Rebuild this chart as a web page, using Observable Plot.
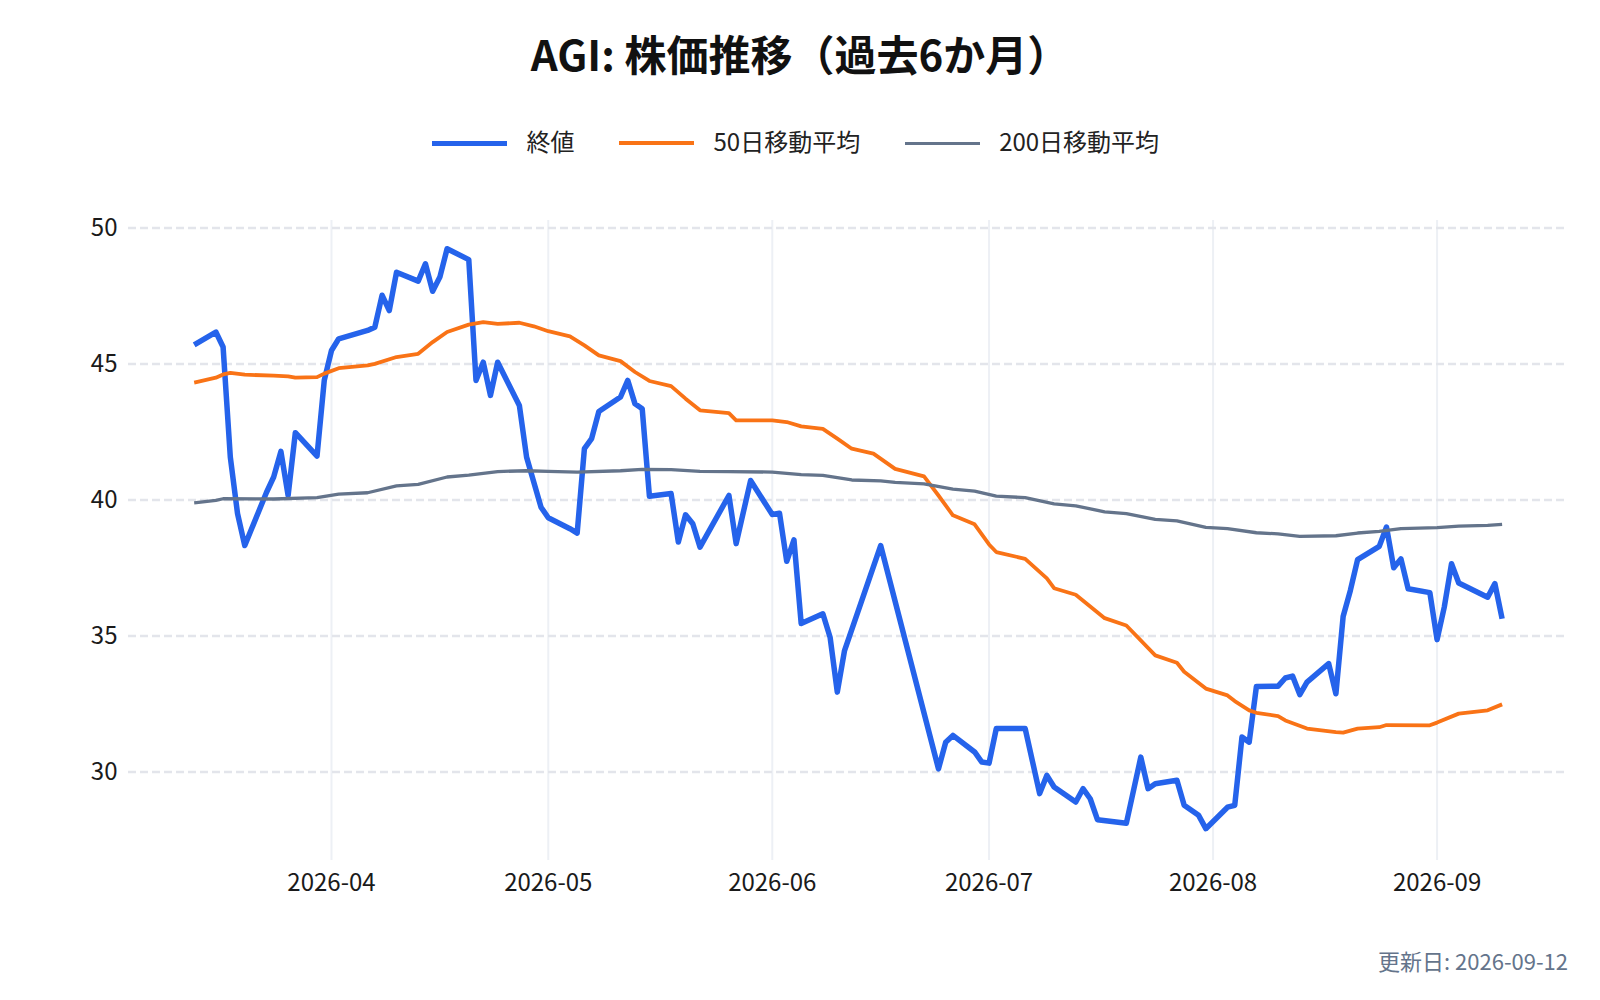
<!DOCTYPE html>
<html lang="ja">
<head>
<meta charset="utf-8">
<script src="https://cdn.jsdelivr.net/npm/d3@7"></script>
<script src="https://cdn.jsdelivr.net/npm/@observablehq/plot@0.6"></script>
<style>
  html, body { margin: 0; padding: 0; background: #ffffff; }
  #wrap { position: relative; width: 1600px; height: 1000px; overflow: hidden; font-family: "Noto Sans CJK JP", "Noto Sans", sans-serif; }
  #title { position: absolute; left: 0; top: 32px; width: 1600px; text-align: center; font-size: 42px; line-height: 42px; font-weight: 700; color: #111111; }
  #legend { position: absolute; left: 432px; top: 129px; height: 24px; display: flex; align-items: center; font-size: 24px; line-height: 24px; color: #222222; }
  .item { display: flex; align-items: center; margin-right: 44.5px; }
  .sw { width: 75px; margin-right: 19.5px; position: relative; top: 2.4px; }
  #chart { position: absolute; left: 0; top: 180px; }
  #caption { position: absolute; right: 32px; top: 949px; font-size: 22px; line-height: 22px; color: #64748b; }
</style>
</head>
<body>
<div id="wrap">
  <div id="title">AGI: 株価推移（過去6か月）</div>
  <div id="legend"></div>
  <div id="chart"></div>
  <div id="caption">更新日: 2026-09-12</div>
</div>
<script>
// ---- data ----
const closeDates = [
  "2026-03-13","2026-03-16","2026-03-17","2026-03-18","2026-03-19","2026-03-20",
  "2026-03-23","2026-03-24","2026-03-25","2026-03-26","2026-03-27","2026-03-30","2026-03-31",
  "2026-04-01","2026-04-02","2026-04-06","2026-04-07","2026-04-08","2026-04-09","2026-04-10",
  "2026-04-13","2026-04-14","2026-04-15","2026-04-16","2026-04-17","2026-04-20","2026-04-21",
  "2026-04-22","2026-04-23","2026-04-24","2026-04-27","2026-04-28","2026-04-29","2026-04-30",
  "2026-05-01","2026-05-04","2026-05-05","2026-05-06","2026-05-07","2026-05-08","2026-05-11",
  "2026-05-12","2026-05-13","2026-05-14","2026-05-15","2026-05-18","2026-05-19","2026-05-20",
  "2026-05-21","2026-05-22","2026-05-26","2026-05-27","2026-05-29","2026-06-01","2026-06-02",
  "2026-06-03","2026-06-04","2026-06-05","2026-06-08","2026-06-09","2026-06-10","2026-06-11",
  "2026-06-16","2026-06-24","2026-06-25","2026-06-26","2026-06-29","2026-06-30","2026-07-01",
  "2026-07-02","2026-07-06","2026-07-08","2026-07-09","2026-07-10","2026-07-13","2026-07-14",
  "2026-07-15","2026-07-16","2026-07-20","2026-07-22","2026-07-23","2026-07-24","2026-07-27",
  "2026-07-28","2026-07-30","2026-07-31","2026-08-03","2026-08-04","2026-08-05","2026-08-06",
  "2026-08-07","2026-08-10","2026-08-11","2026-08-12","2026-08-13","2026-08-14","2026-08-17",
  "2026-08-18","2026-08-19","2026-08-20","2026-08-21","2026-08-24","2026-08-25","2026-08-26",
  "2026-08-27","2026-08-28","2026-08-31","2026-09-01","2026-09-02","2026-09-03","2026-09-04",
  "2026-09-08","2026-09-09","2026-09-10"
];
const closeValues = [
  45.71,46.18,45.63,41.58,39.50,38.33,
  40.28,40.85,41.79,40.17,42.48,41.62,44.40,
  45.50,45.93,46.24,46.36,47.53,46.97,48.38,
  48.05,48.69,47.68,48.20,49.24,48.84,44.40,
  45.07,43.85,45.07,43.48,41.58,40.66,39.74,
  39.35,38.95,38.79,41.89,42.26,43.26,43.79,
  44.40,43.54,43.36,40.14,40.24,38.46,39.46,
  39.13,38.27,40.17,38.40,40.72,39.47,39.52,
  37.75,38.54,35.46,35.82,34.96,32.94,34.47,
  38.33,30.12,31.10,31.35,30.74,30.37,30.33,
  31.60,31.60,29.21,29.88,29.45,28.90,29.39,
  29.02,28.25,28.12,30.55,29.39,29.57,29.70,
  28.78,28.41,27.92,28.71,28.78,31.29,31.10,
  33.15,33.16,33.46,33.53,32.85,33.31,33.99,
  32.88,35.72,36.68,37.81,38.30,39.01,37.51,
  37.84,36.74,36.60,34.87,36.07,37.66,36.95,
  36.43,36.93,35.64
];

const ma50Dates = [
  "2026-03-13","2026-03-16","2026-03-17","2026-03-18","2026-03-20","2026-03-24","2026-03-26",
  "2026-03-27","2026-03-30","2026-03-31","2026-04-02","2026-04-06","2026-04-07","2026-04-10",
  "2026-04-13","2026-04-15","2026-04-17","2026-04-20","2026-04-22","2026-04-24","2026-04-27",
  "2026-04-29","2026-05-01","2026-05-04","2026-05-06","2026-05-08","2026-05-11","2026-05-13",
  "2026-05-15","2026-05-18","2026-05-20","2026-05-22","2026-05-26","2026-05-27","2026-06-01",
  "2026-06-03","2026-06-05","2026-06-08","2026-06-10","2026-06-12","2026-06-15","2026-06-18",
  "2026-06-22","2026-06-24","2026-06-26","2026-06-29","2026-07-01","2026-07-02","2026-07-06",
  "2026-07-09","2026-07-10","2026-07-13","2026-07-17","2026-07-20","2026-07-24","2026-07-27",
  "2026-07-28","2026-07-31","2026-08-03","2026-08-04","2026-08-06","2026-08-07","2026-08-10",
  "2026-08-11","2026-08-14","2026-08-18","2026-08-19","2026-08-21","2026-08-24","2026-08-25",
  "2026-08-31","2026-09-01","2026-09-04","2026-09-08","2026-09-10"
];
const ma50Values = [
  44.32,44.50,44.62,44.68,44.61,44.58,44.55,
  44.50,44.52,44.65,44.85,44.95,45.01,45.26,
  45.38,45.81,46.18,46.45,46.54,46.48,46.52,
  46.39,46.21,46.02,45.69,45.32,45.11,44.71,
  44.38,44.19,43.73,43.30,43.20,42.93,42.93,
  42.87,42.71,42.62,42.26,41.89,41.71,41.15,
  40.87,40.17,39.44,39.11,38.37,38.09,37.84,
  37.12,36.76,36.52,35.66,35.39,34.29,34.02,
  33.69,33.07,32.82,32.61,32.27,32.18,32.06,
  31.90,31.60,31.47,31.45,31.60,31.65,31.73,
  31.72,31.82,32.15,32.27,32.49
];

const ma200Dates = [
  "2026-03-13","2026-03-16","2026-03-17","2026-03-24","2026-03-30","2026-04-02","2026-04-06",
  "2026-04-10","2026-04-13","2026-04-17","2026-04-20","2026-04-24","2026-04-28","2026-05-01",
  "2026-05-05","2026-05-11","2026-05-14","2026-05-18","2026-05-22","2026-05-26","2026-06-01",
  "2026-06-05","2026-06-08","2026-06-12","2026-06-16","2026-06-18","2026-06-22","2026-06-26",
  "2026-06-29","2026-07-02","2026-07-06","2026-07-10","2026-07-13","2026-07-17","2026-07-20",
  "2026-07-24","2026-07-27","2026-07-31","2026-08-03","2026-08-07","2026-08-10","2026-08-13",
  "2026-08-18","2026-08-21","2026-08-24","2026-08-27","2026-09-01","2026-09-04","2026-09-08",
  "2026-09-10"
];
const ma200Values = [
  39.90,39.99,40.05,40.04,40.09,40.22,40.27,
  40.52,40.58,40.85,40.92,41.05,41.08,41.06,
  41.03,41.08,41.13,41.12,41.06,41.05,41.03,
  40.94,40.91,40.74,40.71,40.65,40.60,40.40,
  40.33,40.15,40.09,39.86,39.79,39.57,39.50,
  39.29,39.24,39.00,38.95,38.80,38.76,38.67,
  38.69,38.79,38.85,38.95,38.99,39.04,39.07,
  39.11
];

const yTicks = [30, 35, 40, 45, 50];
const xTickDates = ["2026-04-01","2026-05-01","2026-06-01","2026-07-01","2026-08-01","2026-09-01"];

const seriesNames = ["終値", "50日移動平均", "200日移動平均"];
const seriesColors = ["#2563eb", "#f97316", "#64748b"];
const seriesWidths = [5.5, 3.8, 3.3];

// ---- build ----
const toRows = (dates, values) => dates.map((d, i) => ({date: new Date(d + "T00:00:00Z"), value: values[i]}));
const closeRows = toRows(closeDates, closeValues);
const ma50Rows = toRows(ma50Dates, ma50Values);
const ma200Rows = toRows(ma200Dates, ma200Values);
const xTicks = xTickDates.map(d => new Date(d + "T00:00:00Z"));

const chart = Plot.plot({
  width: 1600,
  height: 720,
  marginLeft: 128,
  marginRight: 32,
  marginTop: 40,
  marginBottom: 40,
  style: {fontFamily: "'Noto Sans CJK JP', 'Noto Sans', sans-serif", fontSize: "24px", color: "#222222", background: "transparent", overflow: "visible"},
  x: {type: "utc", domain: [new Date("2026-03-03T21:50:00Z"), new Date("2026-09-19T04:30:00Z")],
      ticks: xTicks, tickFormat: d3.utcFormat("%Y-%m"), tickSize: 0, tickPadding: 13, label: null},
  y: {domain: [26.75, 50.28], ticks: yTicks, tickSize: 0, tickPadding: 11, label: null},
  marks: [
    Plot.ruleX(xTicks, {stroke: "#edf0f5", strokeWidth: 2}),
    Plot.ruleY(yTicks, {stroke: "#e3e5eb", strokeWidth: 2.5, strokeDasharray: "8,4"}),
    Plot.lineY(closeRows, {x: "date", y: "value", stroke: seriesColors[0], strokeWidth: seriesWidths[0], strokeLinecap: "butt"}),
    Plot.lineY(ma50Rows, {x: "date", y: "value", stroke: seriesColors[1], strokeWidth: seriesWidths[1], strokeLinecap: "butt"}),
    Plot.lineY(ma200Rows, {x: "date", y: "value", stroke: seriesColors[2], strokeWidth: seriesWidths[2], strokeLinecap: "butt"}),
    Plot.axisX({ticks: xTicks, tickFormat: d3.utcFormat("%Y-%m"), tickSize: 0, tickPadding: 13, label: null, fill: "#1a1a1a"}),
    Plot.axisY({ticks: yTicks, tickSize: 0, tickPadding: 11, label: null, fill: "#1a1a1a"})
  ]
});
document.getElementById("chart").appendChild(chart);

// legend
const legend = document.getElementById("legend");
seriesNames.forEach((name, i) => {
  const item = document.createElement("div");
  item.className = "item";
  const sw = document.createElement("div");
  sw.className = "sw";
  sw.style.height = seriesWidths[i] + "px";
  sw.style.background = seriesColors[i];
  const tx = document.createElement("span");
  tx.textContent = name;
  item.appendChild(sw);
  item.appendChild(tx);
  legend.appendChild(item);
});
</script>
</body>
</html>
